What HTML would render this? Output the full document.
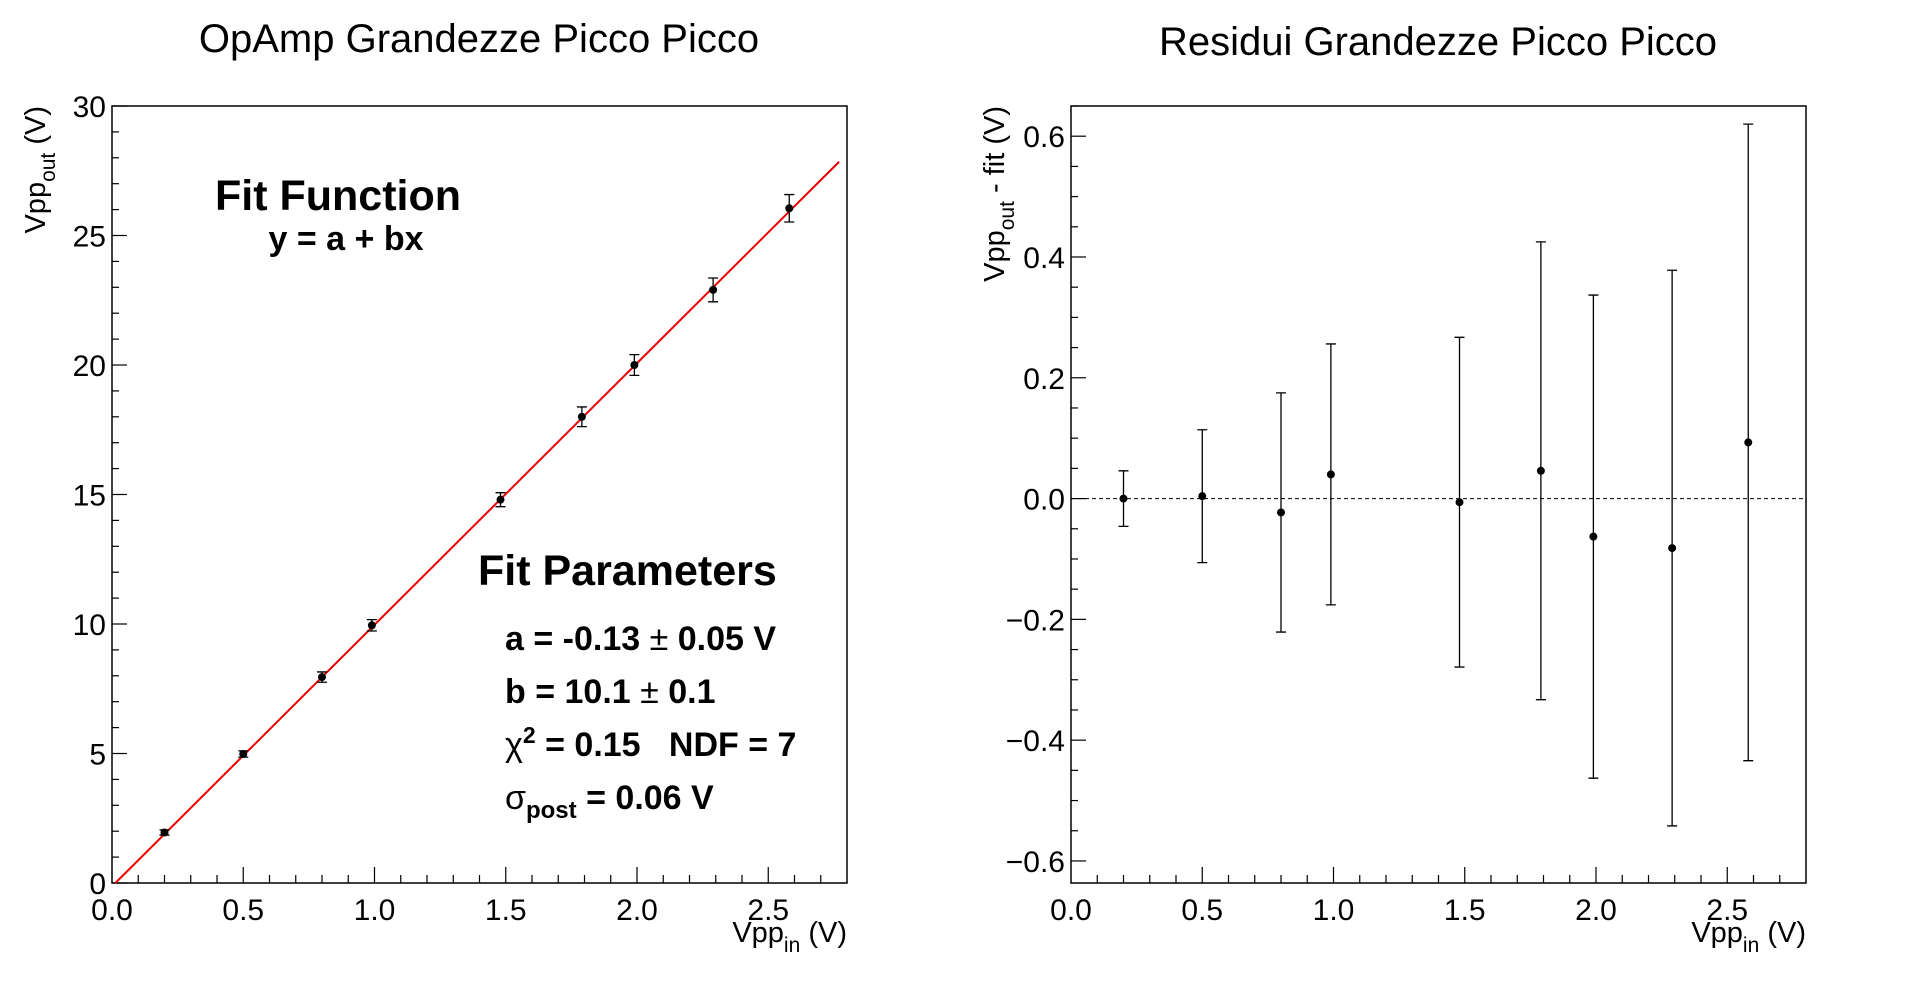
<!DOCTYPE html>
<html><head><meta charset="utf-8">
<style>
html,body{margin:0;padding:0;background:#fff;}
svg{display:block;font-family:"Liberation Sans",sans-serif;}
</style></head>
<body>
<svg id="c" width="1918" height="991" viewBox="0 0 1918 991" xmlns="http://www.w3.org/2000/svg">
<rect width="1918" height="991" fill="#fff"/>
<text x="479" y="52" font-size="40" text-anchor="middle">OpAmp Grandezze Picco Picco</text>
<text x="1438" y="55" font-size="40" text-anchor="middle">Residui Grandezze Picco Picco</text>
<g id="L"></g>
<g id="R"></g>
<text x="338" y="210" font-size="43" font-weight="bold" text-anchor="middle">Fit Function</text>
<text x="346" y="250" font-size="34" font-weight="bold" text-anchor="middle">y = a + bx</text>
<text x="478" y="585" font-size="43" font-weight="bold">Fit Parameters</text>
<text x="505" y="650" font-size="34" font-weight="bold">a = -0.13 <tspan font-weight="normal">±</tspan> 0.05 V</text>
<text x="505" y="703" font-size="34" font-weight="bold">b = 10.1 <tspan font-weight="normal">±</tspan> 0.1</text>
<text x="505" y="756" font-size="34" font-weight="bold"><tspan font-weight="normal">χ</tspan><tspan dy="-13" font-size="23">2</tspan><tspan dy="13"> = 0.15&#160;&#160;&#160;NDF = 7</tspan></text>
<text x="505" y="809" font-size="34" font-weight="bold"><tspan font-weight="normal">σ</tspan><tspan dy="9" font-size="24">post</tspan><tspan dy="-9"> = 0.06 V</tspan></text>
</svg>
<script>
const xVals = [0.2, 0.5, 0.8, 0.99, 1.48, 1.79, 1.99, 2.29, 2.58];
const yVals = [1.95, 4.98, 7.95, 9.95, 14.8, 18.0, 20.0, 22.9, 26.05];
const yErrs = [0.1, 0.12, 0.2, 0.22, 0.27, 0.38, 0.4, 0.46, 0.53];
const resVals = [0.0, 0.004, -0.023, 0.04, -0.006, 0.046, -0.063, -0.082, 0.093];
const resErrs = [0.046, 0.11, 0.198, 0.216, 0.273, 0.379, 0.40, 0.46, 0.527];
const fitA = -0.13, fitB = 10.1;
const xTicks = ["0.0","0.5","1.0","1.5","2.0","2.5"];
const yTicksL = ["0","5","10","15","20","25","30"];
const yTicksR = ["−0.6","−0.4","−0.2","0.0","0.2","0.4","0.6"];

const NS="http://www.w3.org/2000/svg";
function mk(p,tag,a){const e=document.createElementNS(NS,tag);for(const k in a)e.setAttribute(k,a[k]);p.appendChild(e);return e;}

function frame(g,x0,x1,y0,y1,ymin,ymax,yMajor,yMinor,yLabels){
  const sx=v=>x0+(v-0)/2.8*(x1-x0);
  const sy=v=>y1-(v-ymin)/(ymax-ymin)*(y1-y0);
  const fr=mk(g,'rect',{x:x0,y:y0,width:x1-x0,height:y1-y0,fill:'none',stroke:'#000','stroke-width':1.5});
  
  
  for(let i=1;i<28;i++){const v=i/10;const maj=i%5===0;
    const t=mk(g,'line',{x1:sx(v),x2:sx(v),y1:y1,y2:y1-(maj?16:8),stroke:'#000','stroke-width':1.2});
    
    }
  xTicks.forEach((s,i)=>{const t=mk(g,'text',{x:sx(parseFloat(s)),y:920,'font-size':30,'text-anchor':'middle'});t.textContent=s;
    
    });
  const n0=Math.ceil(ymin/yMinor-1e-6), n1=Math.floor(ymax/yMinor+1e-6);
  for(let i=n0;i<=n1;i++){const v=i*yMinor;const maj=Math.abs(v/yMajor-Math.round(v/yMajor))<1e-6;
    const t=mk(g,'line',{x1:x0,x2:x0+(maj?15:7),y1:sy(v),y2:sy(v),stroke:'#000','stroke-width':1.2});
    
    }
  yLabels.forEach(s=>{const v=parseFloat(s.replace('−','-'));const t=mk(g,'text',{x:x0-6,y:sy(v)+11,'font-size':30,'text-anchor':'end'});t.textContent=s;
    
    });
  const xt=mk(g,'text',{x:x1,y:942,'font-size':29,'text-anchor':'end'});
  xt.innerHTML='Vpp<tspan dy="10" font-size="21">in</tspan><tspan dy="-10"> (V)</tspan>';
  
  
  return {sx,sy};
}

function points(g,sx,sy,ys,errs){
  xVals.forEach((x,i)=>{
    const cx=sx(x),lo=sy(ys[i]-errs[i]),hi=sy(ys[i]+errs[i]);
    const eb=mk(g,'path',{d:`M${cx},${lo}V${hi}M${cx-5},${lo}H${cx+5}M${cx-5},${hi}H${cx+5}`,stroke:'#000','stroke-width':1.3,fill:'none'});
    
    
    const c=mk(g,'circle',{cx:cx,cy:sy(ys[i]),r:4,fill:'#000'});
    
    
  });
}

// Left plot
const L=document.getElementById('L');
const a=frame(L,112,847,106,883,0,30,5,1,yTicksL);
const fitLine=mk(L,'line',{x1:a.sx(-fitA/fitB),y1:a.sy(0),x2:a.sx(2.77),y2:a.sy(fitA+fitB*2.77),stroke:'#e00','stroke-width':2});


points(L,a.sx,a.sy,yVals,yErrs);
const ytl=mk(L,'text',{transform:'translate(45,106) rotate(-90)','font-size':29,'text-anchor':'end'});
ytl.innerHTML='Vpp<tspan dy="10" font-size="21">out</tspan><tspan dy="-10"> (V)</tspan>';



// Right plot
const R=document.getElementById('R');
const b=frame(R,1071,1806,106,883,-0.6365,0.65,0.2,0.05,yTicksR);
const zl=mk(R,'line',{x1:1071,x2:1806,y1:b.sy(0),y2:b.sy(0),stroke:'#000','stroke-width':1,'stroke-dasharray':'4,3'});


points(R,b.sx,b.sy,resVals,resErrs);
const ytr=mk(R,'text',{transform:'translate(1004,106) rotate(-90)','font-size':29,'text-anchor':'end'});
ytr.innerHTML='Vpp<tspan dy="10" font-size="21">out</tspan><tspan dy="-10"> - fit (V)</tspan>';


</script>
</body></html>
